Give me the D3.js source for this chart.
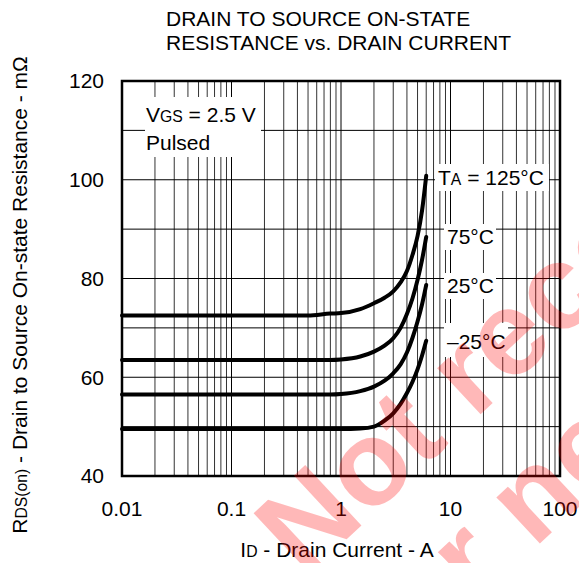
<!DOCTYPE html>
<html>
<head>
<meta charset="utf-8">
<script src="https://cdn.jsdelivr.net/npm/d3@7"></script>
<style>
  html, body { margin: 0; padding: 0; background: #fff; }
  svg { display: block; font-family: "Liberation Sans", Arial, sans-serif; }
</style>
</head>
<body>
<div class="chart"></div>
<script>
// drain current (A) and R_DS(on) (mOhm)
const currents = [0.01, 0.1, 0.5, 0.8, 1, 1.5, 2, 2.5, 3, 3.5, 4, 4.5, 5, 5.5, 6];
const r125 = [72.5, 72.5, 72.5, 72.9, 73.0, 73.8, 75.0, 76.1, 77.4, 79.2, 81.5, 84.8, 88.6, 93.8, 100.8];
const r75 = [63.5, 63.5, 63.5, 63.5, 63.6, 64.2, 65.2, 66.4, 67.9, 70.0, 72.8, 76.0, 79.7, 83.8, 88.4];
const r25 = [56.5, 56.5, 56.5, 56.5, 56.6, 57.2, 58.1, 59.3, 60.8, 62.6, 65.0, 68.0, 71.3, 74.8, 78.7];
const rm25 = [49.5, 49.5, 49.5, 49.5, 49.5, 49.6, 50.0, 51.2, 52.7, 54.6, 56.8, 59.1, 61.6, 64.4, 67.4];
const series = [r125, r75, r25, rm25];

const xTicks = [0.01, 0.1, 1, 10, 100];
const xTickLabels = ['0.01', '0.1', '1', '10', '100'];
const yTicks = [40, 60, 80, 100, 120];

const width = 579;
const height = 563;
const margin = { top: 81, right: 19, bottom: 87, left: 122 };
const font = 21;

const svg = d3.select('.chart').append('svg')
  .attr('width', width)
  .attr('height', height);

const x = d3.scaleLog().domain([0.01, 100]).range([margin.left, width - margin.right]);
const y = d3.scaleLinear().domain([40, 120]).range([height - margin.bottom, margin.top]);

// grid
const grid = svg.append('g');
const minorX = [];
[0.01, 0.1, 1, 10].forEach(d => { for (let k = 1; k < 10; k++) minorX.push(d * k); });
minorX.push(100);
grid.selectAll('line.v')
  .data(minorX)
  .enter()
  .append('line')
  .attr('x1', d => x(d)).attr('x2', d => x(d))
  .attr('y1', y(40)).attr('y2', y(120))
  .attr('stroke', d => xTicks.includes(+d.toPrecision(6)) ? '#000' : '#333')
  .attr('stroke-width', 1);
grid.selectAll('line.h')
  .data(d3.range(40, 121, 10))
  .enter()
  .append('line')
  .attr('x1', x(0.01)).attr('x2', x(100))
  .attr('y1', d => y(d)).attr('y2', d => y(d))
  .attr('stroke', '#000')
  .attr('stroke-width', 1);

// ticks labels
svg.append('g').selectAll('text')
  .data(xTicks)
  .enter()
  .append('text')
  .attr('x', d => x(d))
  .attr('y', height - margin.bottom + 40)
  .attr('text-anchor', 'middle')
  .attr('font-size', font)
  .text((d, i) => xTickLabels[i]);

svg.append('g').selectAll('text')
  .data(yTicks)
  .enter()
  .append('text')
  .attr('x', margin.left - 18)
  .attr('y', d => y(d))
  .attr('dy', '0.35em')
  .attr('text-anchor', 'end')
  .attr('font-size', font)
  .text(d => d);

// annotation boxes
function label(parts, tx, ty, box) {
  svg.append('rect')
    .attr('x', box[0]).attr('y', box[1])
    .attr('width', box[2]).attr('height', box[3])
    .attr('fill', '#fff');
  const t = svg.append('text')
    .attr('x', tx).attr('y', ty)
    .attr('font-size', font);
  parts.forEach(p => {
    t.append('tspan')
      .attr('font-size', p[1] ? font * 0.75 : font)
      .text(p[0]);
  });
  return t;
}

label([['V'], ['GS', true], [' = 2.5 V']], 146, 122, [145, 97, 116, 60]);
svg.append('text').attr('x', 146).attr('y', 150).attr('font-size', font).text('Pulsed');

label([['T'], ['A', true], [' = 125°C']], 438, 185, [435, 164, 114, 27]);
label([['75°C']], 447, 244, [444, 224, 52, 26]);
label([['25°C']], 447, 293, [444, 273, 52, 26]);
label([['–25°C']], 447, 349, [444, 323, 64, 34]);

// curves
const line = d3.line()
  .x((d, i) => x(currents[i]))
  .y(d => y(d))
  .curve(d3.curveMonotoneX);

svg.append('g').selectAll('path')
  .data(series)
  .enter()
  .append('path')
  .attr('d', line)
  .attr('fill', 'none')
  .attr('stroke', '#000')
  .attr('stroke-width', 4)
  .attr('stroke-linecap', 'round');

// frame
svg.append('rect')
  .attr('x', x(0.01)).attr('y', y(120))
  .attr('width', x(100) - x(0.01))
  .attr('height', y(40) - y(120))
  .attr('fill', 'none')
  .attr('stroke', '#000')
  .attr('stroke-width', 2.5);

// titles
const title = svg.append('text').attr('font-size', font);
title.append('tspan').attr('x', 166).attr('y', 26).text('DRAIN TO SOURCE ON-STATE');
title.append('tspan').attr('x', 166).attr('y', 50).text('RESISTANCE vs. DRAIN CURRENT');

const xTitle = svg.append('text')
  .attr('x', 337).attr('y', 557)
  .attr('text-anchor', 'middle')
  .attr('font-size', font);
xTitle.append('tspan').text('I');
xTitle.append('tspan').attr('font-size', font * 0.75).text('D');
xTitle.append('tspan').text(' - Drain Current - A');

const yTitle = svg.append('text')
  .attr('transform', 'translate(27,295) rotate(-90)')
  .attr('text-anchor', 'middle')
  .attr('font-size', font);
yTitle.append('tspan').text('R');
yTitle.append('tspan').attr('font-size', font * 0.75).text('DS(on)');
yTitle.append('tspan').text(' - Drain to Source On-state Resistance - mΩ');

// watermark
const wm = svg.append('g')
  .attr('transform', 'translate(304,579) rotate(-43)')
  .attr('fill', '#ff0000')
  .attr('fill-opacity', 0.28)
  .attr('font-size', 120)
  .attr('font-weight', 'bold');
wm.append('text').attr('x', 0).attr('y', 0).text('Not recommended');
wm.append('text').attr('x', -5).attr('y', 135).text('for new design');
</script>
</body>
</html>
